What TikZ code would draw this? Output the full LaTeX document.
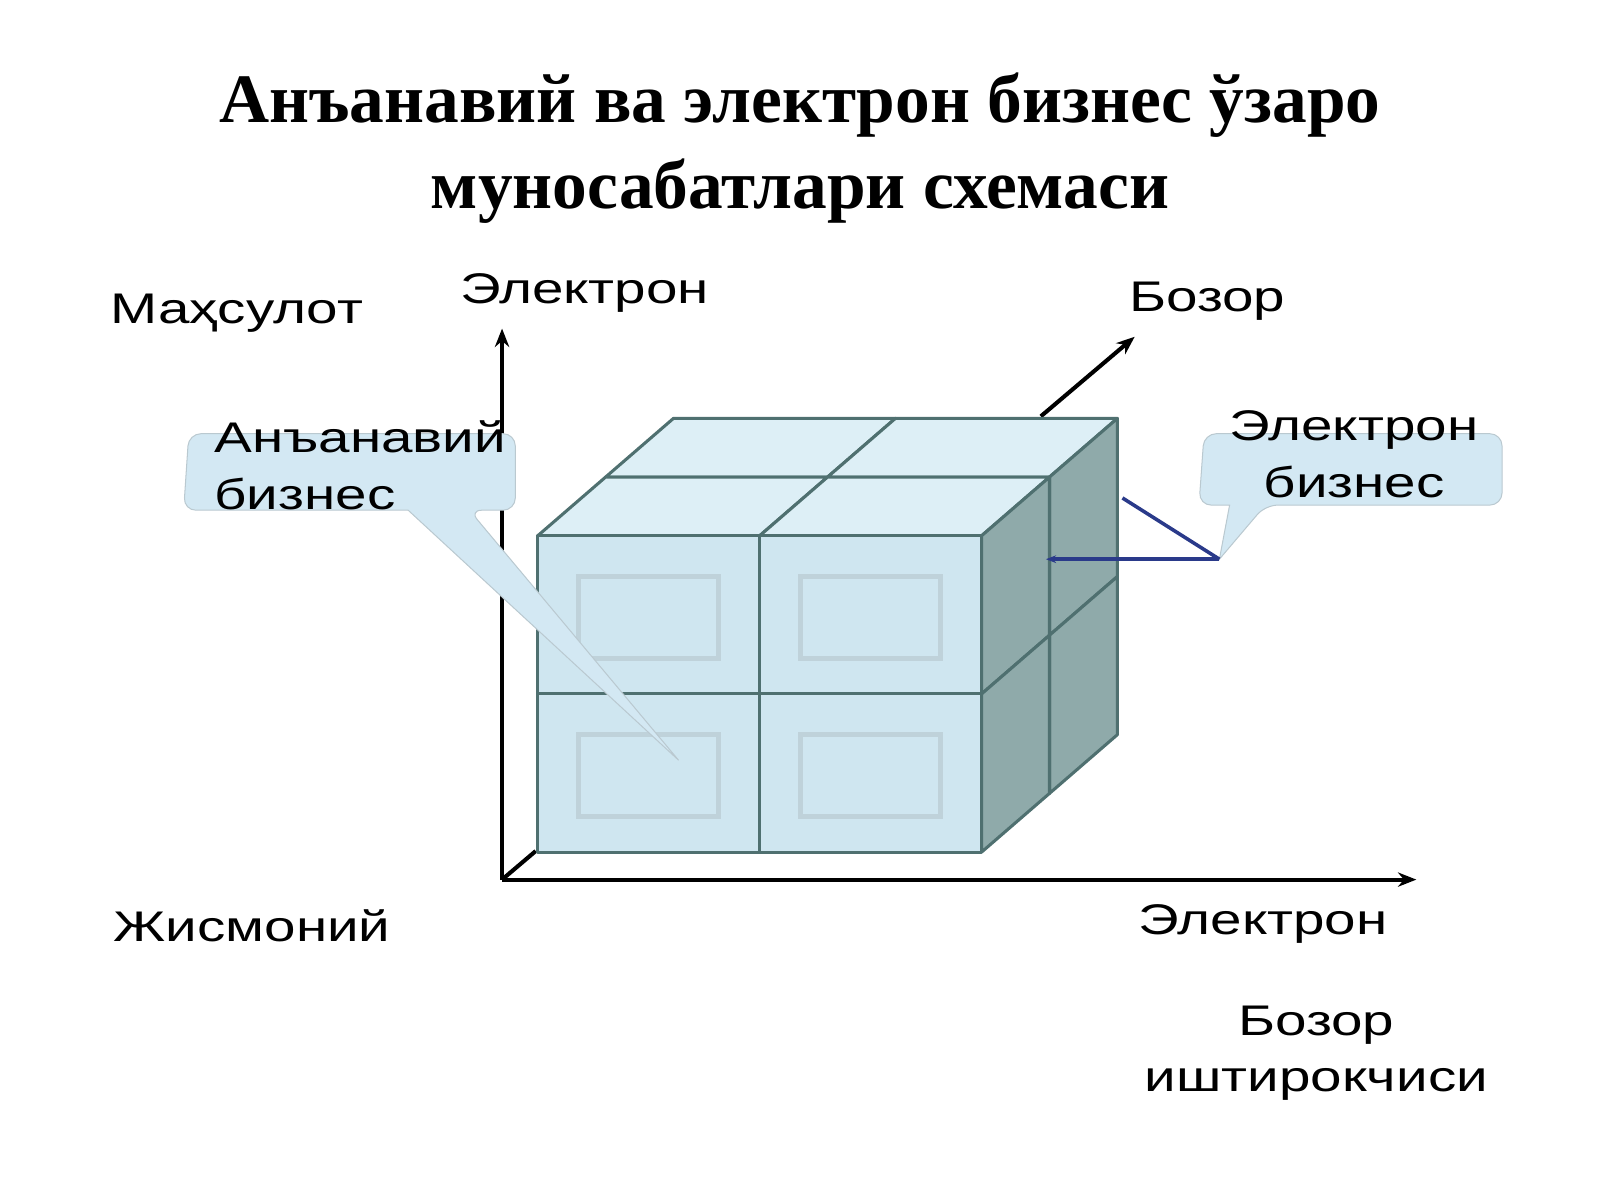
\documentclass[tikz,border=0pt]{standalone}
\usepackage{fontspec}
\setmainfont{Liberation Serif}
\newfontfamily\lab[FakeStretch=1.32]{Liberation Sans}
\usetikzlibrary{arrows.meta}
\definecolor{fr}{HTML}{CFE6F0}
\definecolor{tp}{HTML}{DDEFF6}
\definecolor{sd}{HTML}{8FAAAA}
\definecolor{ed}{HTML}{4F7070}
\definecolor{cl}{HTML}{D3E8F3}
\definecolor{nv}{HTML}{2A3A8A}
\begin{document}
\begin{tikzpicture}[x=1pt,y=-1pt,
 lbl/.style={font=\lab\fontsize{42}{56}\selectfont,inner sep=0pt},
 ax/.style={line width=4pt,-{Stealth[length=18pt,width=14pt]}},
 face/.style={draw=ed,line width=3pt,line join=round},
 call/.style={fill=cl,draw=cl!70!gray,line width=1pt}]
\useasboundingbox (0,0) rectangle (1568,1176);
\node[font=\bfseries\fontsize{68}{84}\selectfont,align=center] (title) at (784,145) {Анъанавий ва электрон бизнес ўзаро\\муносабатлари схемаси};
% axes
\coordinate (o) at (492,862);
\coordinate (ytop) at (492,322);
\coordinate (xend) at (1388,862);
\coordinate (zs) at (1020,408);
\coordinate (ze) at (1112,330);
\draw[ax] (o) -- (ytop);
\draw[ax] (o) -- (xend);
\draw[ax] (zs) -- (ze);
\draw[line width=4pt] (o) -- ++(33,-28);
\def\dx{66.5}\def\dy{-57.5}
\foreach \i in {0,1}{
 \foreach \j in {1,0}{
  \pgfmathsetmacro\xa{527+\i*217.5+\j*\dx}
  \pgfmathsetmacro\ya{525+\j*\dy}
  \draw[face,fill=tp] (\xa,\ya) -- ++(217.5,0) -- ++(\dx,\dy) -- ++(-217.5,0) -- cycle;
 }}
\foreach \k in {0,1}{
 \foreach \j in {1,0}{
  \pgfmathsetmacro\xa{962+\j*\dx}
  \pgfmathsetmacro\ya{525+\k*155+\j*\dy}
  \draw[face,fill=sd] (\xa,\ya) -- ++(\dx,\dy) -- ++(0,155) -- ++(-\dx,-\dy) -- cycle;
 }}
\foreach \i in {0,1}{
 \foreach \k in {0,1}{
  \pgfmathsetmacro\xa{527+\i*217.5}
  \pgfmathsetmacro\ya{525+\k*155}
  \draw[face,fill=fr] (\xa,\ya) rectangle ++(217.5,155);
  \draw[fr!80!gray,line width=5pt] (\xa+40,\ya+40) rectangle ++(137,80);
 }}
% callout left
\draw[call] (185,425) [rounded corners=12pt] -- (505,425) -- (505,500) -- (460,500) [sharp corners]-- (665,745) -- (400,500) [rounded corners=12pt]-- (180,500) -- cycle;
\node[lbl,align=left,anchor=north west] (tb) at (210,412) {Анъанавий\\бизнес};
% callout right
\draw[call] (1180,425) [rounded corners=12pt] -- (1472,425) -- (1472,495) -- (1240,495) [sharp corners]-- (1195,548) -- (1205,495) [rounded corners=12pt]-- (1175,495) -- cycle;
\node[lbl,align=center] (eb) at (1327,445) {Электрон\\бизнес};
\coordinate (p) at (1195,548);
\coordinate (q1) at (1025,548);
\coordinate (q2) at (1100,488);
\draw[nv,line width=3.5pt,-{Stealth[length=10pt]}] (p) -- (q1);
\draw[nv,line width=3.5pt] (p) -- (q2);
\node[lbl] (m) at (232,307) {Маҳсулот};
\node[lbl] (e1) at (573,287) {Электрон};
\node[lbl] (b1) at (1183,295) {Бозор};
\node[lbl] (j) at (247,907) {Жисмоний};
\node[lbl] (e2) at (1238,905) {Электрон};
\node[lbl] (b2) at (1290,1005) {Бозор};
\node[lbl] (i) at (1290,1063) {иштирокчиси};
\end{tikzpicture}
\end{document}
